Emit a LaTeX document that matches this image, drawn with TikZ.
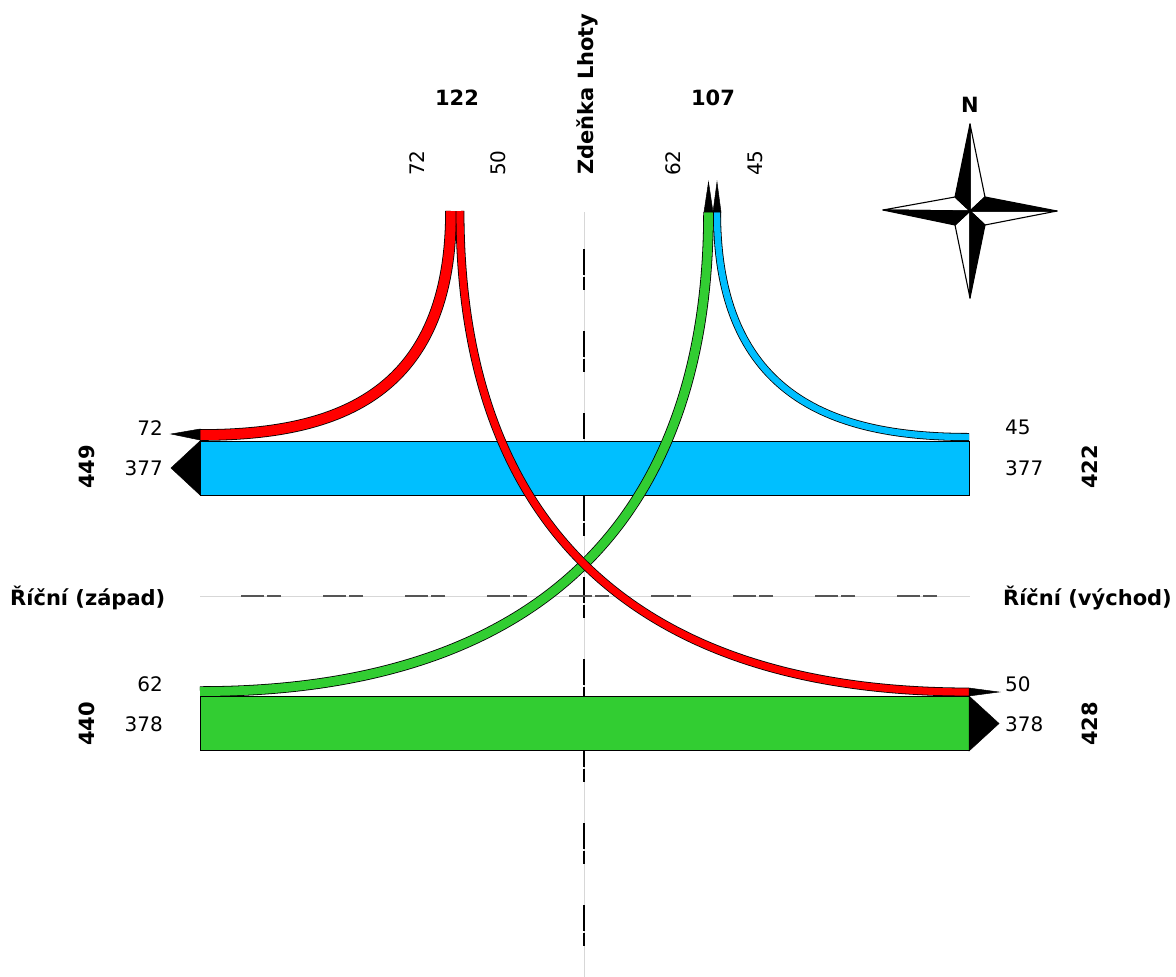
\documentclass[tikz,border=0pt]{standalone}
\usepackage{fontspec}
\setmainfont{DejaVu Sans}
\definecolor{bluefl}{RGB}{0,191,255}
\definecolor{greenfl}{RGB}{50,205,50}
\definecolor{redfl}{RGB}{255,0,0}
\definecolor{axlight}{RGB}{215,215,215}
\definecolor{axdark}{RGB}{85,85,85}
\begin{document}
\begin{tikzpicture}[x=1pt,y=-1pt,
  font=\fontsize{20}{24}\selectfont,
  lab/.style={inner sep=0pt},
  tot/.style={inner sep=0pt,font=\fontsize{21}{25}\selectfont\bfseries},
  boxst/.style={draw=black,line width=0.9pt,inner sep=0pt,minimum width=769pt,minimum height=54pt},
  tipst/.style={fill=black,draw=black,line width=0.5pt,line join=miter},
  starblack/.style={fill=black,draw=black,line width=1.1pt,line join=round},
  starwhite/.style={fill=white,draw=black,line width=1.1pt,line join=round}]
\useasboundingbox (0,0) rectangle (1176,977);
\fill[white] (0,0) rectangle (1176,977);

% axes
\coordinate (vtop) at (584,212);
\coordinate (vbot) at (584,977);
\coordinate (hl) at (200,596);
\coordinate (hr) at (970,596);
\draw[axlight,line width=1pt] (vtop) -- (vbot);
\draw[black,line width=1.4pt,dash pattern=on 26pt off 2pt on 13pt off 41pt,dash phase=45pt] (vtop) -- (vbot);
\draw[axlight,line width=1pt] (hl) -- (hr);
\draw[axdark,line width=1.4pt,dash pattern=on 23pt off 3pt on 14pt off 42pt,dash phase=41pt] (hl) -- (hr);

% boxes
\node[boxst,fill=bluefl] (bbox) at (584.5,468) {};
\node[boxst,fill=greenfl] (gbox) at (584.5,723.5) {};

% flows
\draw[black,line width=8pt] (717,212) .. controls (717,400) and (838,437) .. (969,437);
\draw[bluefl,line width=6.4pt] (717,212) .. controls (717,400) and (838,437) .. (969,437);

\draw[black,line width=11.6pt] (451,211) .. controls (451,400) and (330,435) .. (200,435);
\draw[redfl,line width=10pt] (451,211) .. controls (451,400) and (330,435) .. (200,435);

\draw[black,line width=10.5pt] (708.5,212) .. controls (708.5,510) and (548,691.5) .. (200,691.5);
\draw[greenfl,line width=8.9pt] (708.5,212) .. controls (708.5,510) and (548,691.5) .. (200,691.5);

\draw[black,line width=8.8pt] (460,211) .. controls (460,510) and (620,692) .. (969,692);
\draw[redfl,line width=7.2pt] (460,211) .. controls (460,510) and (620,692) .. (969,692);

% arrow tips
\filldraw[tipst] (200,441) -- (171,468) -- (200,495) -- cycle;
\filldraw[tipst] (200,429) -- (171,434) -- (200,440) -- cycle;
\filldraw[tipst] (969,696) -- (999,723.5) -- (969,751) -- cycle;
\filldraw[tipst] (969,688) -- (999,692) -- (969,696) -- cycle;
\filldraw[tipst] (704,212) -- (708.5,182) -- (713,212) -- cycle;
\filldraw[tipst] (713,212) -- (717,182) -- (721,212) -- cycle;

% top labels
\node[tot] (t122) at (457,98) {122};
\node[tot] (t107) at (713,98) {107};
\node[lab,rotate=90] (n72t) at (417,163) {72};
\node[lab,rotate=90] (n50t) at (498,163) {50};
\node[lab,rotate=90] (n62t) at (673,163) {62};
\node[lab,rotate=90] (n45t) at (755,163) {45};
\node[tot,rotate=90,anchor=west] (road) at (587,175) {Zdeňka Lhoty};

% left labels
\node[lab,anchor=east] (l72) at (163,428) {72};
\node[lab,anchor=east] (l377) at (163,468) {377};
\node[tot,rotate=90] (l449) at (87,467) {449};
\node[lab,anchor=east] (l62) at (163,684) {62};
\node[lab,anchor=east] (l378) at (163,724) {378};
\node[tot,rotate=90] (l440) at (87,724) {440};

% right labels
\node[lab,anchor=west] (r45) at (1005,427) {45};
\node[lab,anchor=west] (r377) at (1005,468) {377};
\node[tot,rotate=90] (r422) at (1090,467) {422};
\node[lab,anchor=west] (r50) at (1005,684) {50};
\node[lab,anchor=west] (r378) at (1005,724) {378};
\node[tot,rotate=90] (r428) at (1090,724) {428};

% road names
\node[tot,anchor=base west] (west) at (10,605) {Říční (západ)};
\node[tot,anchor=base east] (east) at (1172,605) {Říční (východ)};

% compass
\coordinate (C) at (970,211);
\coordinate (CN) at (970,124);
\coordinate (CS) at (970,298);
\coordinate (CW) at (883,210);
\coordinate (CE) at (1057,211);
\coordinate (INW) at (955,197);
\coordinate (INE) at (985,197);
\coordinate (ISE) at (985,225);
\coordinate (ISW) at (955,225);
\filldraw[starwhite] (CN) -- (INE) -- (C) -- cycle;
\filldraw[starwhite] (CE) -- (ISE) -- (C) -- cycle;
\filldraw[starwhite] (CS) -- (ISW) -- (C) -- cycle;
\filldraw[starwhite] (CW) -- (INW) -- (C) -- cycle;
\filldraw[starblack] (CN) -- (INW) -- (C) -- cycle;
\filldraw[starblack] (CE) -- (INE) -- (C) -- cycle;
\filldraw[starblack] (CS) -- (ISE) -- (C) -- cycle;
\filldraw[starblack] (CW) -- (ISW) -- (C) -- cycle;
\node[tot] (north) at (970,105) {N};
\end{tikzpicture}
\end{document}
